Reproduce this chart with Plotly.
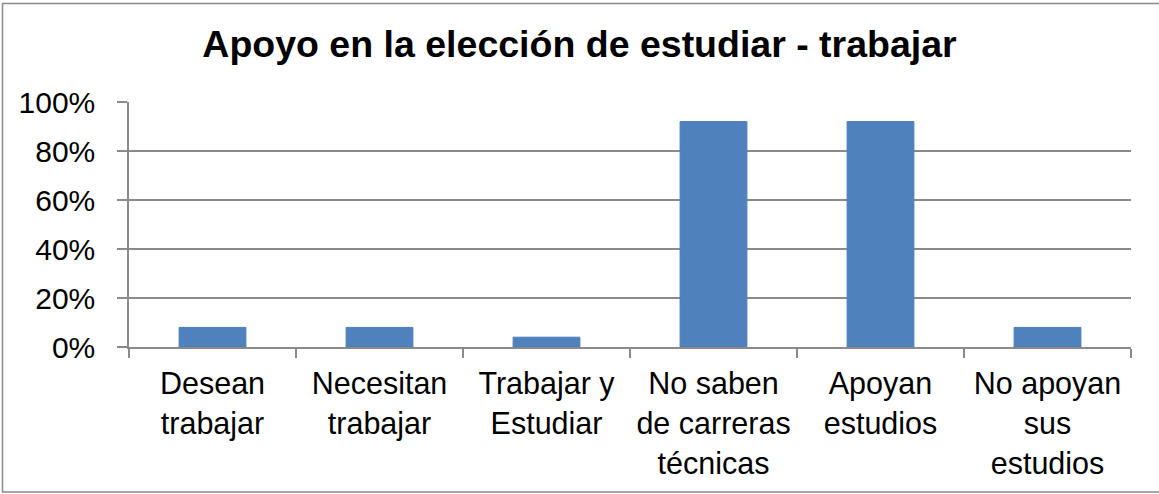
import plotly.graph_objects as go

categories = ["Desean<br>trabajar", "Necesitan<br>trabajar", "Trabajar y<br>Estudiar",
              "No saben<br>de carreras<br>técnicas", "Apoyan<br>estudios",
              "No apoyan<br>sus<br>estudios"]
values = [0.08, 0.08, 0.04, 0.92, 0.92, 0.08]
y_ticks = [0, 0.2, 0.4, 0.6, 0.8, 1.0]
y_tick_labels = ["0%", "20%", "40%", "60%", "80%", "100%"]
title_text = "Apoyo en la elección de estudiar - trabajar"

W, H = 1159, 494
L, R, T, B = 129, 28, 102, 147
pw, ph = W - L - R, H - T - B

def px_x(p):
    return (p - L) / pw

def px_y(p):
    return (H - B - p) / ph

FONT = "Liberation Sans, Arial, sans-serif"
GRID = "#8a8a8a"

fig = go.Figure(go.Bar(
    x=categories, y=values,
    marker=dict(color="#4F81BD", line=dict(color="#4A7EBB", width=1)),
    width=0.4,
))

fig.update_layout(
    width=W, height=H,
    margin=dict(l=L, r=R, t=T, b=B, autoexpand=False),
    paper_bgcolor="white", plot_bgcolor="white",
    showlegend=False,
    font=dict(family=FONT, color="black"),
    title=dict(text="<b>" + title_text + "</b>", x=0.5, xanchor="center",
               xref="container", yref="container", y=1 - 44 / H, yanchor="middle",
               font=dict(size=37.5, family=FONT, color="black")),
    xaxis=dict(
        type="category", tickson="boundaries", ticks="outside", ticklen=9,
        tickcolor=GRID, tickwidth=1.5, showline=True, linecolor=GRID, linewidth=1.5,
        showgrid=False, tickfont=dict(size=30.5, family=FONT, color="black"),
        ticklabelstandoff=9,
    ),
    yaxis=dict(
        range=[0, 1], tickvals=y_ticks, ticktext=y_tick_labels,
        ticks="outside", ticklen=10, tickcolor=GRID, tickwidth=1.5,
        showline=True, linecolor=GRID, linewidth=1.5,
        showgrid=True, gridcolor=GRID, gridwidth=1.5, zeroline=False,
        tickfont=dict(size=30, family=FONT, color="black"),
        ticklabelstandoff=16,
    ),
    shapes=[dict(type="rect", xref="paper", yref="paper",
                 x0=px_x(2.5), x1=px_x(1165), y0=px_y(492), y1=px_y(3.5),
                 line=dict(color="#8a8a8a", width=1.5), fillcolor="rgba(0,0,0,0)",
                 layer="below")],
)

fig.write_html("out.html", config={"displayModeBar": False},
               post_script="document.body.style.margin='0';document.body.style.overflow='hidden';")
